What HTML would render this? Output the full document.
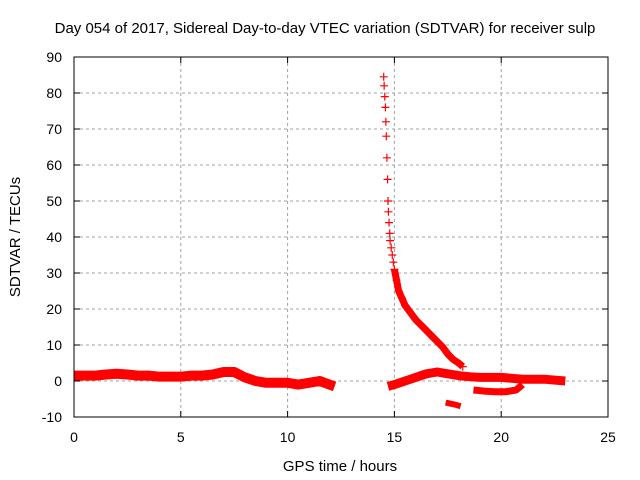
<!DOCTYPE html>
<html><head><meta charset="utf-8"><style>
body{margin:0;background:#fff}
svg{display:block;font-family:"Liberation Sans",sans-serif}
</style></head><body>
<svg id="chart" width="640" height="480" viewBox="0 0 640 480">
<text x="325" y="33" text-anchor="middle" font-size="15">Day 054 of 2017, Sidereal Day-to-day VTEC variation (SDTVAR) for receiver sulp</text>
<g id="grid"></g>
<g id="series"></g>
<rect x="74" y="57" width="534" height="360" fill="none" stroke="#000" stroke-width="1"/>
<g id="ticks"></g>
<text x="340" y="471" text-anchor="middle" font-size="15">GPS time / hours</text>
<text transform="translate(20,237) rotate(-90)" text-anchor="middle" font-size="15">SDTVAR / TECUs</text>
</svg>
<script>
const xTicks=[0,5,10,15,20,25];
const yTicks=[-10,0,10,20,30,40,50,60,70,80,90];
const band1X=[0,0.5,1,1.5,2,2.5,3,3.5,4,4.5,5,5.5,6,6.5,7,7.5,8,8.5,9,9.5,10,10.5,11,11.5,12.2];
const band1Y=[1.5,1.5,1.5,1.8,2,1.8,1.5,1.5,1.2,1.2,1.2,1.5,1.5,1.8,2.5,2.5,1,0,-0.5,-0.5,-0.5,-1,-0.5,0,-1.5];
const band2X=[14.7,15,15.5,16,16.5,17,17.5,18,18.5,19,20,21,22,23];
const band2Y=[-1.5,-1,0,1,2,2.5,2,1.5,1.2,1,1,0.5,0.5,0];
const band3X=[18.7,19.2,19.7,20.2,20.7,21];
const band3Y=[-2.5,-2.8,-3,-3,-2.5,-1];
const band4X=[17.4,17.8,18.1];
const band4Y=[-6,-6.5,-7];
const spikeX=[14.5,14.52,14.55,14.58,14.6,14.62,14.65,14.68,14.7,14.72,14.75,14.78,14.8,14.85,14.9,14.95,15,15.1,15.2,15.35,15.5,15.75,16,16.25,16.5,16.75,17,17.25,17.5,17.75,18,18.2];
const spikeY=[84.5,82,79,76,72,68,62,56,50,47,44,41,39,37,35,33,31,28,25,23,21,19,17,15.5,14,12.5,11,9.5,7.5,6,5,4];
const NS='http://www.w3.org/2000/svg';
const X=v=>74+v*534/25, Y=v=>417-(v+10)*3.6;
function mk(t,a){const e=document.createElementNS(NS,t);for(const k in a)e.setAttribute(k,a[k]);return e;}
const grid=document.getElementById('grid'),ticks=document.getElementById('ticks'),ser=document.getElementById('series');
xTicks.forEach(v=>{
 if(v>0&&v<25){const g=mk('line',{x1:X(v),x2:X(v),y1:57,y2:417,stroke:'#a0a0a0','stroke-dasharray':'3,3'});
 
 grid.appendChild(g);}
 const t=mk('text',{x:X(v),y:442,'text-anchor':'middle','font-size':14});t.textContent=v;
 
 ticks.appendChild(t);
 ticks.appendChild(mk('line',{x1:X(v),x2:X(v),y1:417,y2:411,stroke:'#000'}));
 ticks.appendChild(mk('line',{x1:X(v),x2:X(v),y1:57,y2:63,stroke:'#000'}));
});
yTicks.forEach(v=>{
 if(v>-10&&v<90){const g=mk('line',{x1:74,x2:608,y1:Y(v),y2:Y(v),stroke:'#a0a0a0','stroke-dasharray':'3,3'});
 
 grid.appendChild(g);}
 const t=mk('text',{x:62,y:Y(v)+5,'text-anchor':'end','font-size':14});t.textContent=v;
 
 ticks.appendChild(t);
 ticks.appendChild(mk('line',{x1:74,x2:80,y1:Y(v),y2:Y(v),stroke:'#000'}));
 ticks.appendChild(mk('line',{x1:608,x2:602,y1:Y(v),y2:Y(v),stroke:'#000'}));
});
function band(xs,ys,name,w){
 const p=mk('polyline',{points:xs.map((x,i)=>X(x)+','+Y(ys[i])).join(' '),fill:'none',stroke:'#f00','stroke-width':w,'stroke-linejoin':'round'});
 
 ser.appendChild(p);
}
band(band1X,band1Y,'band-early',10);
band(band2X,band2Y,'band-late',9);
band(band3X,band3Y,'band-low',7);
band(band4X,band4Y,'band-negative',6);
band(spikeX.slice(16),spikeY.slice(16),'spike-tail',7);
spikeX.forEach((x,i)=>{
 const cx=X(x),cy=Y(spikeY[i]);
 const p=mk('path',{d:`M${cx-4},${cy}h8M${cx},${cy-4}v8`,stroke:'#f00','stroke-width':1.2});
 
 ser.appendChild(p);
});
</script>
</body></html>
